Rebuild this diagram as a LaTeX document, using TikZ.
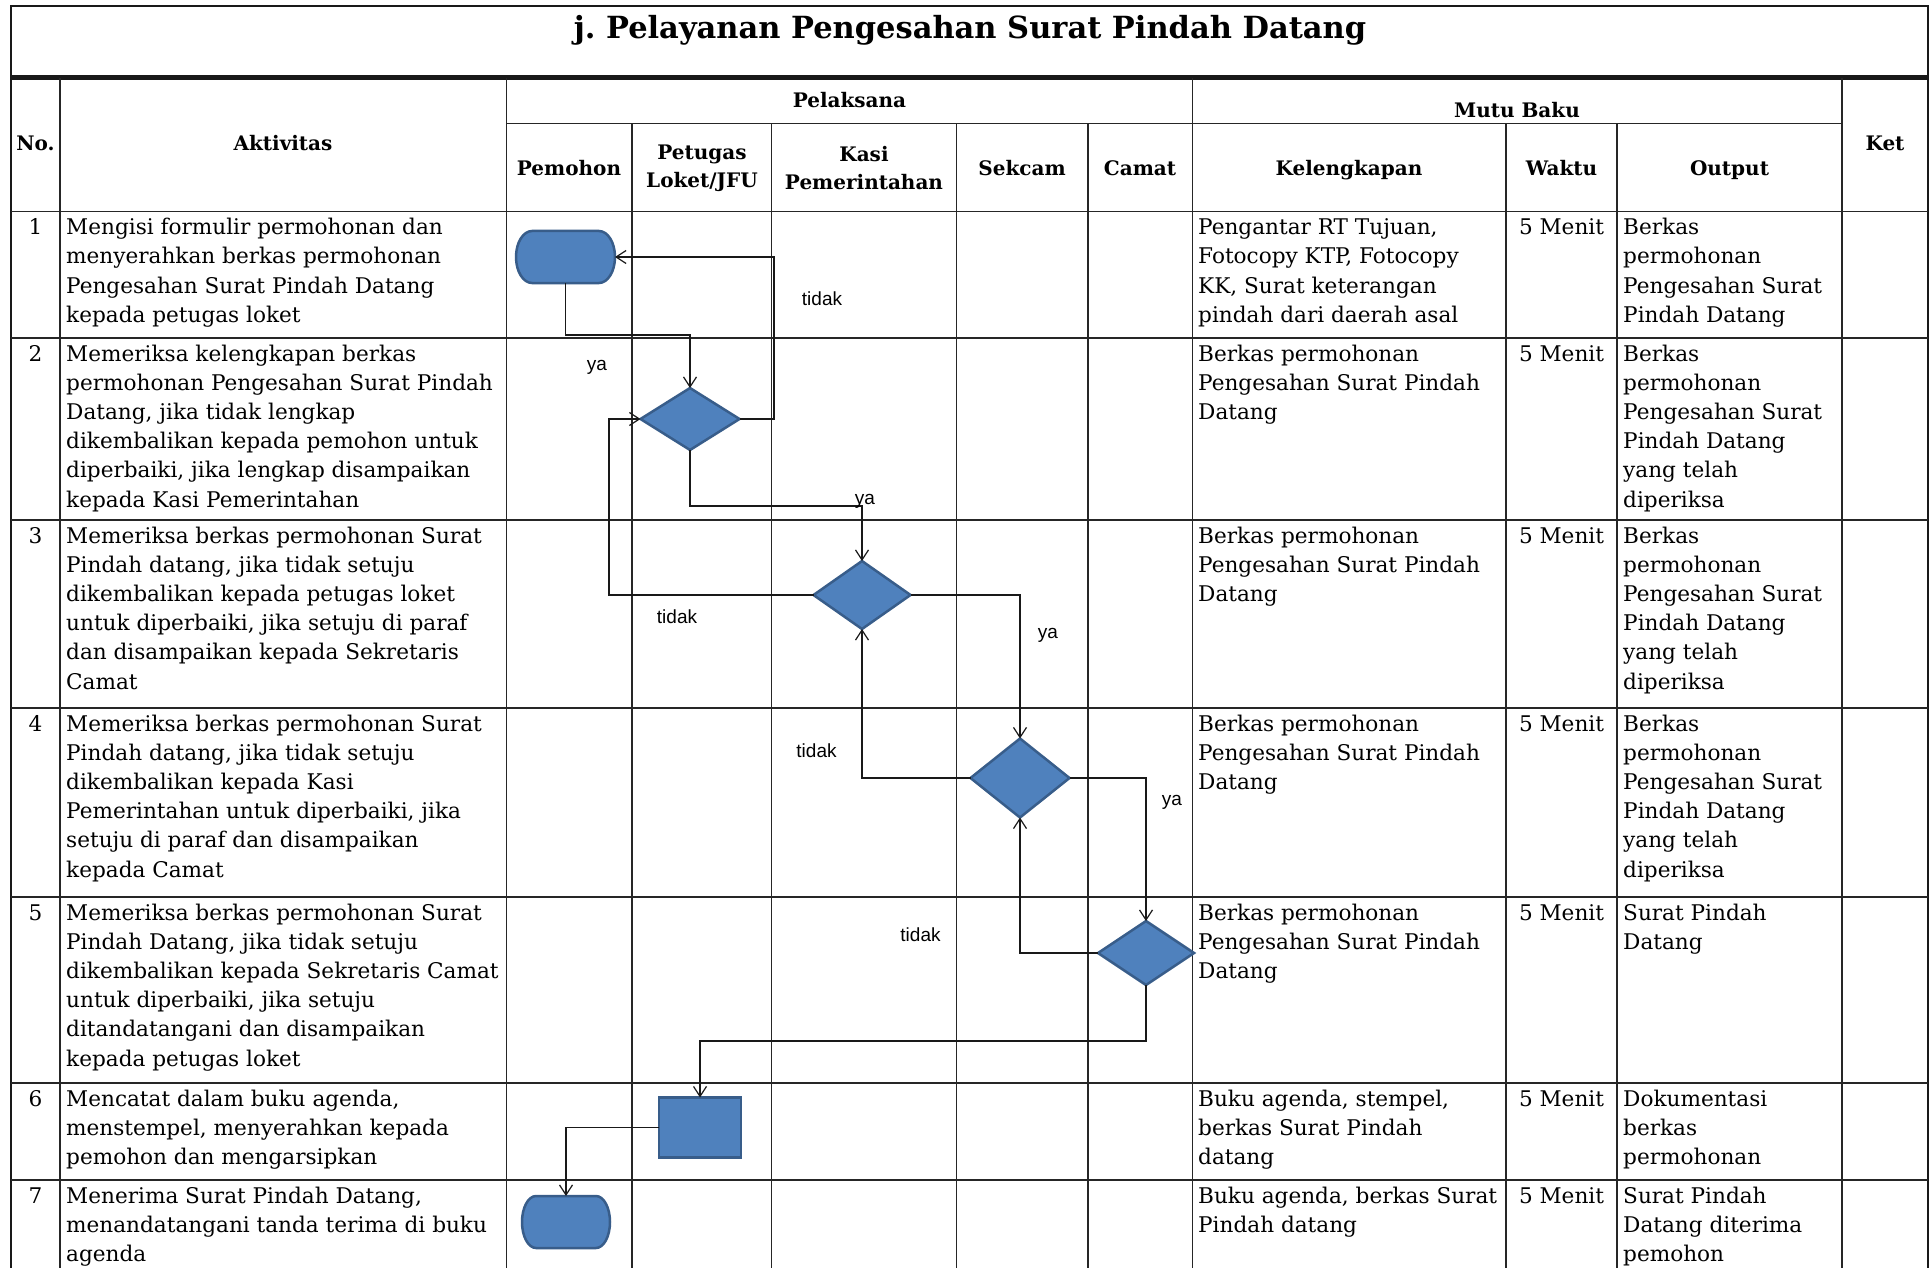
\documentclass[tikz,border=0pt]{standalone}
\usepackage{fontspec}
\setmainfont{DejaVu Serif}
\newfontfamily\lblfont{Liberation Sans}
\usetikzlibrary{shapes.geometric,arrows.meta,calc}

\definecolor{shapefill}{RGB}{79,129,189}
\definecolor{shapeline}{RGB}{56,93,138}

% flowchart terminator with elliptical ends, drawn around an invisible node
\newcommand{\termpath}[3]{%
  \pgfmathsetmacro\tk{0.552*#2}\pgfmathsetmacro\tl{0.552*#3}%
  \filldraw[fill=shapefill,draw=shapeline,line width=2.5pt]
    ($(#1.north west)+(#2,0)$) -- ($(#1.north east)+(-#2,0)$)
    .. controls +(\tk,0) and +(0,-\tl) .. (#1.east)
    .. controls +(0,\tl) and +(\tk,0) .. ($(#1.south east)+(-#2,0)$)
    -- ($(#1.south west)+(#2,0)$)
    .. controls +(-\tk,0) and +(0,\tl) .. (#1.west)
    .. controls +(0,-\tl) and +(-\tk,0) .. ($(#1.north west)+(#2,0)$) -- cycle;}

\begin{document}
\begin{tikzpicture}[x=1pt,y=-1pt,
  grid/.style={line width=1.6pt,draw=black!85},
  frame/.style={line width=2.2pt,draw=black!90},
  titlef/.style={font=\fontsize{30.5}{36}\selectfont\bfseries,inner sep=0pt},
  head/.style={font=\fontsize{20}{28}\selectfont\bfseries,inner sep=0pt,align=center},
  cell/.style={anchor=north west,inner sep=0pt,align=left,font=\fontsize{21.6}{29.2}\selectfont},
  num/.style={anchor=north,inner sep=0pt,font=\fontsize{21.6}{29.2}\selectfont},
  lbl/.style={font=\lblfont\fontsize{19}{21}\selectfont,inner sep=0pt},
  decision/.style={diamond,fill=shapefill,draw=shapeline,line width=2.5pt,inner sep=0pt,outer sep=0pt},
  process/.style={rectangle,fill=shapefill,draw=shapeline,line width=2.5pt,inner sep=0pt,outer sep=0pt},
  termbox/.style={rectangle,draw=none,inner sep=0pt,outer sep=0pt},
  flow/.style={line width=1.3pt,draw=black!90,-{Straight Barb[length=10pt,width=13pt,line width=1.2pt]}}
]
\useasboundingbox (0,0) rectangle (1931,1268);
\fill[white] (0,0) rectangle (1931,1268);

% ---------- title box ----------
\draw[frame] (11,6) rectangle (1928,76);
\node[titlef,anchor=base] (title) at (970,39) {j.\ Pelayanan Pengesahan Surat Pindah Datang};

% ---------- table grid ----------
\draw[frame] (11,78.5) -- (1928,78.5);
\draw[frame] (11,76) -- (11,1268);
\draw[frame] (1928,76) -- (1928,1268);
\foreach \x in {60,506.5,1192.5,1842} \draw[grid] (\x,78.5) -- (\x,1268);
\foreach \x in {632,771.5,956.5,1088,1506,1617} \draw[grid] (\x,123.5) -- (\x,1268);
\draw[grid] (506.5,123.5) -- (1842,123.5);
\foreach \y in {211.5,338,520,708,897,1083,1180} \draw[grid] (11,\y) -- (1928,\y);

% ---------- header ----------
\node[head,anchor=base] (hNo) at (35.5,151) {No.};
\node[head,anchor=base] (hAkt) at (283,151) {Aktivitas};
\node[head,anchor=base] (hPel) at (849.5,107.5) {Pelaksana};
\node[head,anchor=base] (hMutu) at (1517,118) {Mutu Baku};
\node[head,anchor=base] (hKet) at (1885,151) {Ket};
\node[head,anchor=base] (hPem) at (569,176) {Pemohon};
\node[head] (hPet) at (702,168) {Petugas\\Loket/JFU};
\node[head] (hKasi) at (864,168) {Kasi\\Pemerintahan};
\node[head,anchor=base] (hSek) at (1022,176) {Sekcam};
\node[head,anchor=base] (hCam) at (1140,176) {Camat};
\node[head,anchor=base] (hKel) at (1349,176) {Kelengkapan};
\node[head,anchor=base] (hWak) at (1561.5,176) {Waktu};
\node[head,anchor=base] (hOut) at (1729.5,176) {Output};

% ---------- row 1 ----------
\node[num] (n1) at (35.5,214) {\strut 1};
\node[cell] (a1) at (66,214) {\strut Mengisi formulir permohonan dan\\menyerahkan berkas permohonan\\Pengesahan Surat Pindah Datang\\kepada petugas loket};
\node[cell] (k1) at (1198,214) {\strut Pengantar RT Tujuan,\\Fotocopy KTP, Fotocopy\\KK, Surat keterangan\\pindah dari daerah asal};
\node[num] (w1) at (1561.5,214) {\strut 5 Menit};
\node[cell] (o1) at (1623,214) {\strut Berkas\\permohonan\\Pengesahan Surat\\Pindah Datang};

% ---------- row 2 ----------
\node[num] (n2) at (35.5,340.5) {\strut 2};
\node[cell] (a2) at (66,340.5) {\strut Memeriksa kelengkapan berkas\\permohonan Pengesahan Surat Pindah\\Datang, jika tidak lengkap\\dikembalikan kepada pemohon untuk\\diperbaiki, jika lengkap disampaikan\\kepada Kasi Pemerintahan};
\node[cell] (k2) at (1198,340.5) {\strut Berkas permohonan\\Pengesahan Surat Pindah\\Datang};
\node[num] (w2) at (1561.5,340.5) {\strut 5 Menit};
\node[cell] (o2) at (1623,340.5) {\strut Berkas\\permohonan\\Pengesahan Surat\\Pindah Datang\\yang telah\\diperiksa};

% ---------- row 3 ----------
\node[num] (n3) at (35.5,522.5) {\strut 3};
\node[cell] (a3) at (66,522.5) {\strut Memeriksa berkas permohonan Surat\\Pindah datang, jika tidak setuju\\dikembalikan kepada petugas loket\\untuk diperbaiki, jika setuju di paraf\\dan disampaikan kepada Sekretaris\\Camat};
\node[cell] (k3) at (1198,522.5) {\strut Berkas permohonan\\Pengesahan Surat Pindah\\Datang};
\node[num] (w3) at (1561.5,522.5) {\strut 5 Menit};
\node[cell] (o3) at (1623,522.5) {\strut Berkas\\permohonan\\Pengesahan Surat\\Pindah Datang\\yang telah\\diperiksa};

% ---------- row 4 ----------
\node[num] (n4) at (35.5,710.5) {\strut 4};
\node[cell] (a4) at (66,710.5) {\strut Memeriksa berkas permohonan Surat\\Pindah datang, jika tidak setuju\\dikembalikan kepada Kasi\\Pemerintahan untuk diperbaiki, jika\\setuju di paraf dan disampaikan\\kepada Camat};
\node[cell] (k4) at (1198,710.5) {\strut Berkas permohonan\\Pengesahan Surat Pindah\\Datang};
\node[num] (w4) at (1561.5,710.5) {\strut 5 Menit};
\node[cell] (o4) at (1623,710.5) {\strut Berkas\\permohonan\\Pengesahan Surat\\Pindah Datang\\yang telah\\diperiksa};

% ---------- row 5 ----------
\node[num] (n5) at (35.5,899.5) {\strut 5};
\node[cell] (a5) at (66,899.5) {\strut Memeriksa berkas permohonan Surat\\Pindah Datang, jika tidak setuju\\dikembalikan kepada Sekretaris Camat\\untuk diperbaiki, jika setuju\\ditandatangani dan disampaikan\\kepada petugas loket};
\node[cell] (k5) at (1198,899.5) {\strut Berkas permohonan\\Pengesahan Surat Pindah\\Datang};
\node[num] (w5) at (1561.5,899.5) {\strut 5 Menit};
\node[cell] (o5) at (1623,899.5) {\strut Surat Pindah\\Datang};

% ---------- row 6 ----------
\node[num] (n6) at (35.5,1085.5) {\strut 6};
\node[cell] (a6) at (66,1085.5) {\strut Mencatat dalam buku agenda,\\menstempel, menyerahkan kepada\\pemohon dan mengarsipkan};
\node[cell] (k6) at (1198,1085.5) {\strut Buku agenda, stempel,\\berkas Surat Pindah\\datang};
\node[num] (w6) at (1561.5,1085.5) {\strut 5 Menit};
\node[cell] (o6) at (1623,1085.5) {\strut Dokumentasi\\berkas\\permohonan};

% ---------- row 7 ----------
\node[num] (n7) at (35.5,1182.5) {\strut 7};
\node[cell] (a7) at (66,1182.5) {\strut Menerima Surat Pindah Datang,\\menandatangani tanda terima di buku\\agenda};
\node[cell] (k7) at (1198,1182.5) {\strut Buku agenda, berkas Surat\\Pindah datang};
\node[num] (w7) at (1561.5,1182.5) {\strut 5 Menit};
\node[cell] (o7) at (1623,1182.5) {\strut Surat Pindah\\Datang diterima\\pemohon};

% ---------- flowchart shapes ----------
\node[termbox,minimum width=99pt,minimum height=52pt] (T1) at (565.5,257) {};
\node[decision,minimum width=99pt,minimum height=62pt] (D1) at (690,419) {};
\node[decision,minimum width=97pt,minimum height=68pt] (D2) at (862,595) {};
\node[decision,minimum width=99pt,minimum height=79pt] (D3) at (1020,778) {};
\node[decision,minimum width=96pt,minimum height=64pt] (D4) at (1146,953) {};
\node[process,minimum width=82pt,minimum height=60pt] (R6) at (700,1127.5) {};
\node[termbox,minimum width=88pt,minimum height=52pt] (T2) at (566,1222) {};
\termpath{T1}{16}{26}
\termpath{T2}{14}{26}

% bend points of the connectors
\coordinate (b1) at (0,335);
\coordinate (b2) at (774,0);
\coordinate (b3) at (0,506);
\coordinate (b4) at (609,0);
\coordinate (b9) at (0,1041);

% ---------- connectors ----------
\draw[flow] (T1.south) -- (T1.south |- b1) -| (D1.north);
\draw[flow] (D1.east) -- (b2 |- D1.east) |- (T1.east);
\draw[flow] (D1.south) -- (D1.south |- b3) -| (D2.north);
\draw[flow] (D2.west) -- (b4 |- D2.west) |- (D1.west);
\draw[flow] (D2.east) -| (D3.north);
\draw[flow] (D3.west) -| (D2.south);
\draw[flow] (D3.east) -| (D4.north);
\draw[flow] (D4.west) -| (D3.south);
\draw[flow] (D4.south) -- (D4.south |- b9) -| (R6.north);
\draw[flow] (R6.west) -| (T2.north);

% ---------- branch labels ----------
\node[lbl] (l1) at (822,299) {tidak};
\node[lbl] (l2) at (597,367) {ya};
\node[lbl] (l3) at (865,501) {ya};
\node[lbl] (l4) at (677,617) {tidak};
\node[lbl] (l5) at (1048,635) {ya};
\node[lbl] (l6) at (816.5,751) {tidak};
\node[lbl] (l7) at (1172,802) {ya};
\node[lbl] (l8) at (920.5,935) {tidak};
\end{tikzpicture}
\end{document}
